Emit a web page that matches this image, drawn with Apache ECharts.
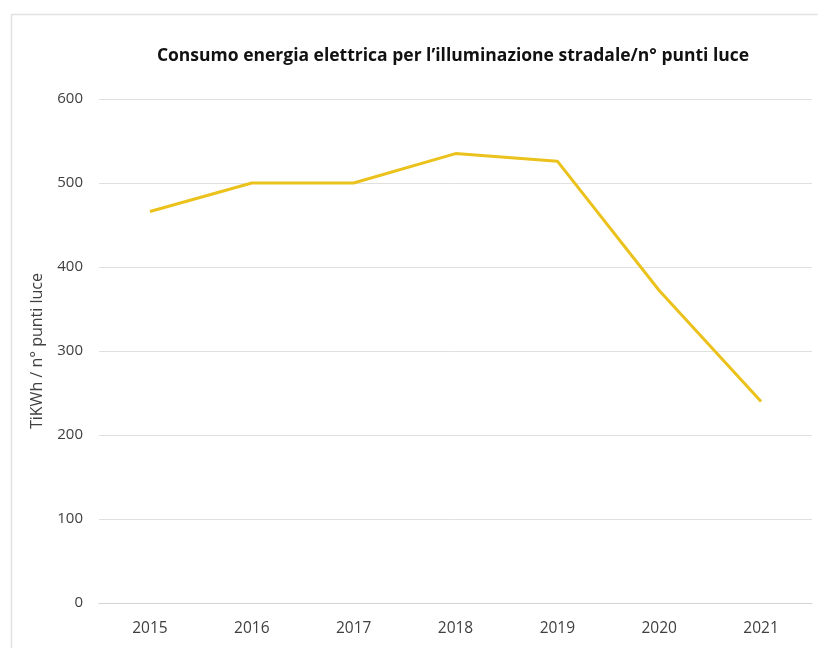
<!DOCTYPE html>
<html>
<head>
<meta charset="utf-8">
<script src="https://cdn.jsdelivr.net/npm/echarts@6/dist/echarts.min.js"></script>
<style>
  html, body { margin: 0; padding: 0; background: #ffffff; }
  #chart { width: 818px; height: 648px; }
</style>
</head>
<body>
<div id="chart"></div>
<script>
// Street lighting energy consumption per light point, by year
const years = ['2015', '2016', '2017', '2018', '2019', '2020', '2021'];
const consumption = [466, 500, 500, 535, 526, 372, 240];
const yTicks = [0, 100, 200, 300, 400, 500, 600];

const chart = echarts.init(document.getElementById('chart'), null, { renderer: 'canvas' });

chart.setOption({
  backgroundColor: '#ffffff',
  animation: false,
  graphic: [{
    type: 'rect',
    left: 9, top: 12,
    shape: { width: 830, height: 660 },
    style: { fill: 'none', stroke: '#e2e2e2', lineWidth: 1.5 },
    silent: true,
    z: -1
  }],
  title: {
    text: 'Consumo energia elettrica per l\u2019illuminazione stradale/n\u00b0 punti luce',
    left: 448,
    textAlign: 'center',
    top: 42,
    textStyle: {
      fontFamily: 'Open Sans',
      fontWeight: 'bold',
      fontSize: 17.5,
      color: '#111111'
    }
  },
  grid: {
    left: 99,
    right: 6,
    top: 99,
    bottom: 45
  },
  xAxis: {
    type: 'category',
    data: years,
    boundaryGap: true,
    axisLine: { show: true, lineStyle: { color: '#d4d4d4', width: 1 } },
    axisTick: { show: false },
    axisLabel: {
      margin: 18,
      fontFamily: 'Open Sans',
      fontSize: 15.5,
      color: '#404040'
    }
  },
  yAxis: {
    type: 'value',
    min: yTicks[0],
    max: yTicks[yTicks.length - 1],
    interval: 100,
    name: 'TiKWh / n\u00b0 punti luce',
    nameLocation: 'middle',
    nameGap: 54,
    nameRotate: 90,
    nameTextStyle: {
      fontFamily: 'Open Sans',
      fontSize: 16,
      color: '#404040'
    },
    axisLine: { show: false },
    axisTick: { show: false },
    splitLine: { lineStyle: { color: '#e0e0e0', width: 1 } },
    axisLabel: {
      margin: 16,
      fontFamily: 'Open Sans',
      fontSize: 15,
      color: '#404040'
    }
  },
  series: [{
    type: 'line',
    data: consumption,
    symbol: 'none',
    lineStyle: { color: '#EBC11C', width: 3 },
    itemStyle: { color: '#EBC11C' }
  }]
});
</script>
</body>
</html>
